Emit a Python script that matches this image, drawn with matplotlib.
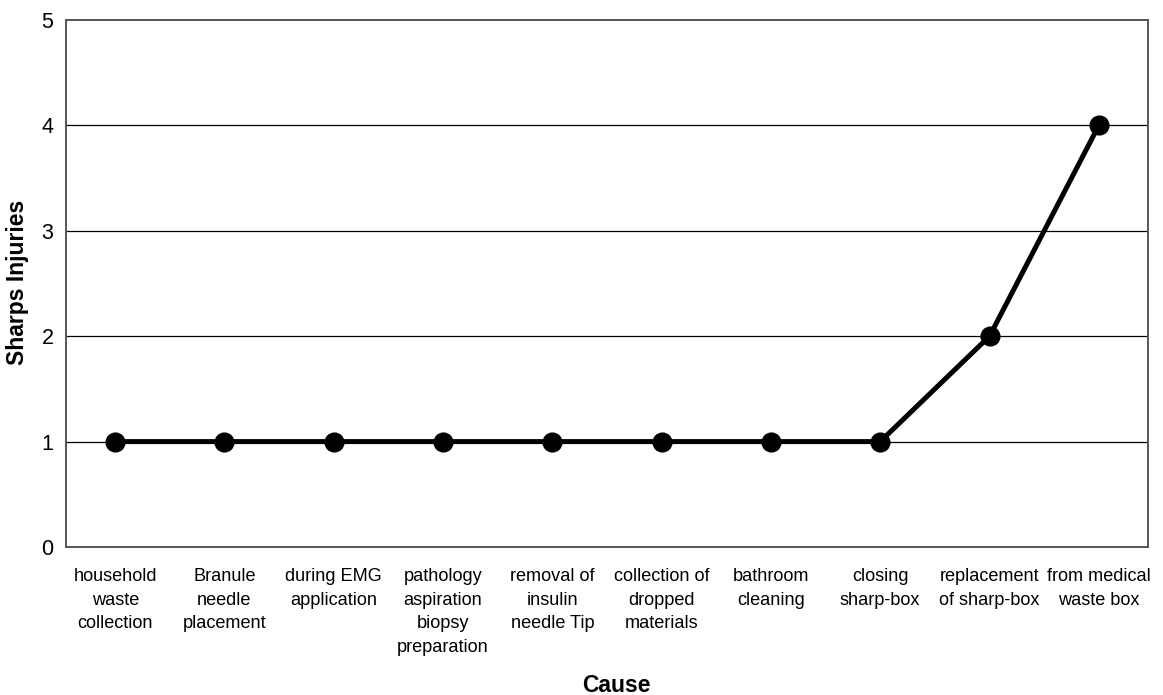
import matplotlib.pyplot as plt
import numpy as np

plt.rcParams['font.family'] = ['Liberation Sans', 'DejaVu Sans']

# data
causes = ["household\nwaste\ncollection", "Branule\nneedle\nplacement", "during EMG\napplication",
          "pathology\naspiration\nbiopsy\npreparation", "removal of\ninsulin\nneedle Tip",
          "collection of\ndropped\nmaterials", "bathroom\ncleaning", "closing\nsharp-box",
          "replacement\nof sharp-box", "from medical\nwaste box"]
injuries = [1, 1, 1, 1, 1, 1, 1, 1, 2, 4]
y_ticks = [0, 1, 2, 3, 4, 5]

fig = plt.figure(figsize=(11.63, 6.95), dpi=100)
ax = fig.add_axes([66/1163, 1 - 547/695, (1148-66)/1163, (547-20)/695])

x = np.arange(len(causes))
ax.plot(x, injuries, color='black', lw=3.6, marker='o', markersize=13.5, zorder=3)

ax.set_xlim(-0.45, len(causes) - 0.55)
ax.set_ylim(0, 5)
ax.set_yticks(y_ticks)
ax.set_yticklabels([str(t) for t in y_ticks], fontsize=15.5)
ax.set_xticks(x)
ax.set_xticklabels(causes, fontsize=13.1, linespacing=1.52, va='top')
ax.tick_params(length=0, pad=15)
ax.tick_params(axis='y', pad=9)

for t in y_ticks[1:-1]:
    ax.axhline(t, color='black', lw=0.9, zorder=1)

for s in ax.spines.values():
    s.set_color('#555555')
    s.set_linewidth(1.4)

fig.text(18/1163, 1 - 282/695, "Sharps Injuries", fontsize=16.5, fontweight='bold',
         rotation=90, ha='center', va='center')
fig.text(616/1163, 1 - 685/695, "Cause", fontsize=16.5, fontweight='bold', ha='center', va='center')

fig.savefig("out.png", dpi=100)
